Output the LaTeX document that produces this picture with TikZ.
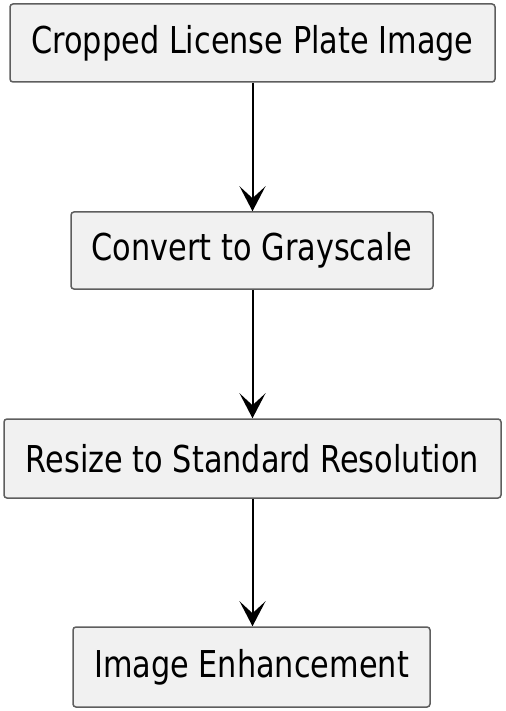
\documentclass[tikz,border=0pt]{standalone}
\usepackage{fontspec}
\setmainfont{DejaVu Sans}[FakeStretch=0.82]
\usetikzlibrary{arrows.meta}
\definecolor{boxfill}{HTML}{F1F1F1}
\definecolor{boxline}{HTML}{5E5E5E}
\tikzset{
    stepbox/.style={draw=boxline, fill=boxfill, line width=0.75pt, rounded corners=1.5pt,
        inner sep=0pt, font=\fontsize{18.5}{22}\selectfont},
    flow/.style={-{Stealth[length=12.5pt, width=13pt, inset=6pt]}, line width=1pt}
}
\begin{document}
\begin{tikzpicture}[x=0.5pt, y=-0.5pt]
    % Frame of the picture
    \useasboundingbox (0,0) rectangle (505,711);

    % Steps of the pipeline
    \node[stepbox, minimum width=242.5pt, minimum height=39pt] (crop) at (252.5,43) {Cropped License Plate Image};
    \node[stepbox, minimum width=181pt, minimum height=38.5pt] (gray) at (252,250.5) {Convert to Grayscale};
    \node[stepbox, minimum width=248.5pt, minimum height=39.5pt] (resize) at (252.5,458.5) {Resize to Standard Resolution};
    \node[stepbox, minimum width=178.5pt, minimum height=40pt] (enh) at (251.5,667) {Image Enhancement};

    % Arrows between steps
    \draw[flow] (crop.south -| 252.5,0) -- (gray.north -| 252.5,0);
    \draw[flow] (gray.south -| 252.5,0) -- (resize.north -| 252.5,0);
    \draw[flow] (resize.south -| 252.5,0) -- (enh.north -| 252.5,0);
\end{tikzpicture}
\end{document}
